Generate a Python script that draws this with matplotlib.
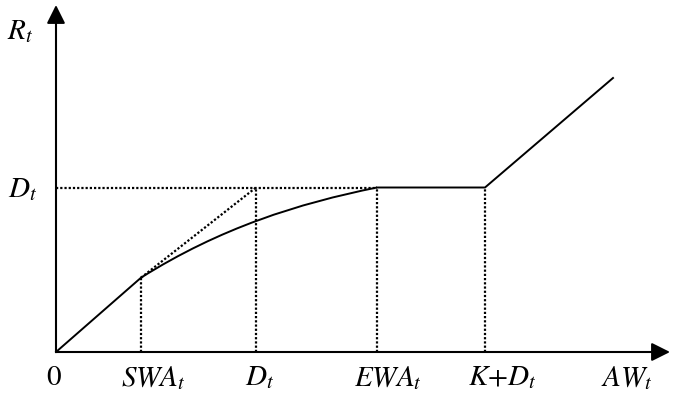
import matplotlib
matplotlib.use("Agg")
import matplotlib.pyplot as plt
from matplotlib.path import Path
from matplotlib.patches import PathPatch

plt.rcParams["mathtext.fontset"] = "stix"
plt.rcParams["font.family"] = "STIXGeneral"

# key x positions (arbitrary units, origin at 0)
x_swa = 8.5
x_d = 20.0
x_ewa = 32.1
x_kd = 42.9
x_end = 55.7

# key y levels
y_swa = 7.43
y_d = 16.45
y_end = 27.4

# concave part between SWA and EWA as a cubic bezier (start, 2 controls, end)
bez_x = [8.5, 16.4, 24.2, 32.1]
bez_y = [7.43, 12.4, 14.85, 16.45]

tick_labels = ["0", "$SWA_t$", "$D_t$", "$EWA_t$", "$K{+}D_t$", "$AW_t$"]
tick_label_x = [-0.2, 9.7, 20.4, 33.2, 44.6, 57.1]

fig = plt.figure(figsize=(6.73, 3.98), dpi=100)
ax = fig.add_axes([0, 0, 1, 1])
ax.set_xlim(-5.6, 61.7)
ax.set_ylim(-4.6, 35.2)
ax.axis("off")

# axes with arrows
arr = dict(arrowstyle="-|>,head_length=0.8,head_width=0.4", lw=1.5,
           color="black", mutation_scale=14, shrinkA=0, shrinkB=0)
ax.annotate("", xy=(61.4, 0), xytext=(0, 0), arrowprops=arr)
ax.annotate("", xy=(0, 34.7), xytext=(0, 0), arrowprops=arr)

# solid pieces
ax.plot([0, x_swa], [0, y_swa], color="black", lw=1.4)
ax.plot([x_ewa, x_kd, x_end], [y_d, y_d, y_end], color="black", lw=1.4,
        solid_joinstyle="miter")
verts = list(zip(bez_x, bez_y))
codes = [Path.MOVETO, Path.CURVE4, Path.CURVE4, Path.CURVE4]
ax.add_patch(PathPatch(Path(verts, codes), fill=False, lw=1.4,
                       edgecolor="black"))

# dotted guides
dot = dict(color="black", lw=1.6, linestyle=(0, (1, 0.9)))
ax.plot([0, x_ewa], [y_d, y_d], **dot)
ax.plot([x_swa, x_d], [y_swa, y_d], **dot)
ax.plot([x_swa, x_swa], [0, y_swa], **dot)
for xv in [x_d, x_ewa, x_kd]:
    ax.plot([xv, xv], [0, y_d], **dot)

# labels
for lab, xv in zip(tick_labels, tick_label_x):
    ax.text(xv, -2.6, lab, fontsize=21, ha="center", va="center")
ax.text(-3.6, 32.0, "$R_t$", fontsize=21, ha="center", va="center")
ax.text(-3.3, 16.2, "$D_t$", fontsize=21, ha="center", va="center")

fig.savefig("out.png", dpi=100)
